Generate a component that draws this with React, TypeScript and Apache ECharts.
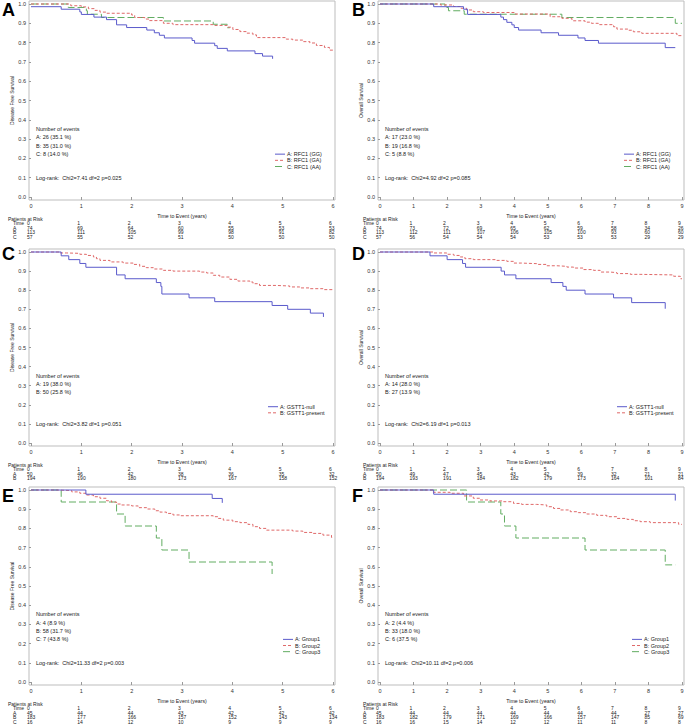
import React, { useEffect, useRef } from "react";
import * as echarts from "echarts";

const FONT = "'Liberation Sans', Arial, Helvetica, sans-serif";
const BLUE = "#5a5acb";
const RED = "#df6868";
const GREEN = "#62ad62";

// ---------- Panel A: Disease free survival by RFC1 ----------
const dfsGG = [[0,0.986],[0.6,0.973],[0.97,0.959],[1.0,0.946],[1.25,0.932],[1.5,0.919],[1.7,0.892],[1.9,0.878],[2.3,0.865],[2.45,0.851],[2.55,0.838],[2.65,0.824],[3.2,0.811],[3.25,0.797],[3.65,0.784],[3.7,0.77],[3.9,0.757],[4.45,0.743],[4.6,0.73],[4.8,0.716]];
const dfsGA = [[0,1],[0.79,0.991],[1.0,0.985],[1.14,0.976],[1.27,0.967],[1.37,0.958],[1.5,0.952],[2.0,0.943],[2.06,0.93],[2.26,0.922],[2.35,0.914],[2.63,0.9],[2.82,0.893],[3.62,0.889],[3.9,0.88],[4.01,0.868],[4.15,0.857],[4.28,0.849],[4.41,0.84],[4.48,0.826],[5.07,0.818],[5.2,0.813],[5.4,0.805],[5.54,0.798],[5.67,0.785],[5.83,0.775],[5.93,0.761],[6.0,0.758]];
const dfsAA = [[0,1],[0.74,0.982],[1.1,0.965],[1.12,0.947],[1.4,0.93],[2.63,0.912],[3.62,0.895],[3.9,0.877],[3.95,0.877]];
const eventsDfsRfc = ["A: 26 (35.1 %)", "B: 35 (31.0 %)", "C: 8 (14.0 %)"];
const logrankDfsRfc = "Log-rank:  Chi2=7.41 df=2 p=0.025";
const riskDfsRfcA = [74, 69, 64, 60, 55, 53, 53];
const riskDfsRfcB = [113, 111, 105, 99, 98, 91, 82];
const riskDfsRfcC = [57, 55, 52, 51, 50, 50, 50];

// ---------- Panel B: Overall survival by RFC1 ----------
const osGG = [[0,1],[1.6,0.986],[2.49,0.973],[2.61,0.946],[3.6,0.932],[3.68,0.919],[3.78,0.905],[3.93,0.892],[4.0,0.878],[4.13,0.865],[4.8,0.851],[5.32,0.838],[5.9,0.824],[6.11,0.811],[6.51,0.797],[8.5,0.774],[8.8,0.774]];
const osGA = [[0,1],[1.8,0.995],[2.19,0.987],[2.4,0.978],[2.58,0.969],[2.78,0.96],[3.08,0.956],[4.0,0.948],[5.07,0.934],[5.42,0.926],[5.72,0.913],[6.11,0.906],[6.3,0.9],[6.51,0.893],[6.96,0.882],[7.06,0.87],[7.4,0.864],[7.55,0.856],[7.8,0.848],[8.85,0.836],[9.0,0.836]];
const osAA = [[0,1],[1.94,0.982],[2.04,0.965],[2.51,0.947],[5.42,0.93],[8.8,0.9],[9.0,0.9]];
const eventsOsRfc = ["A: 17 (23.0 %)", "B: 19 (16.8 %)", "C: 5 (8.8 %)"];
const logrankOsRfc = "Log-rank:  Chi2=4.92 df=2 p=0.085";
const riskOsRfcA = [74, 73, 72, 69, 65, 62, 59, 58, 34, 26];
const riskOsRfcB = [113, 112, 111, 107, 106, 105, 100, 93, 60, 60];
const riskOsRfcC = [57, 56, 54, 54, 54, 53, 53, 53, 29, 29];

// ---------- Panel C: Disease free survival by GSTT1 ----------
const dfsNull = [[0,1],[0.6,0.98],[0.75,0.96],[0.97,0.94],[1.09,0.92],[1.7,0.88],[1.87,0.86],[2.49,0.84],[2.58,0.82],[2.6,0.78],[3.14,0.76],[3.65,0.74],[4.79,0.72],[5.1,0.7],[5.55,0.68],[5.81,0.66]];
const dfsPresent = [[0,1],[0.58,0.995],[0.71,0.993],[0.97,0.988],[1.1,0.982],[1.24,0.974],[1.3,0.965],[1.37,0.956],[1.57,0.948],[1.83,0.942],[2.03,0.935],[2.16,0.925],[2.29,0.918],[2.43,0.911],[2.63,0.904],[2.82,0.9],[3.35,0.895],[3.49,0.89],[3.62,0.878],[3.75,0.869],[3.95,0.857],[4.11,0.848],[4.35,0.843],[4.41,0.834],[4.54,0.825],[4.87,0.822],[5.14,0.817],[5.34,0.812],[5.54,0.808],[5.8,0.803],[6.0,0.8]];
const eventsDfsGst = ["A: 19 (38.0 %)", "B: 50 (25.8 %)"];
const logrankDfsGst = "Log-rank:  Chi2=3.82 df=1 p=0.051";
const riskDfsGstA = [50, 46, 42, 38, 36, 35, 32];
const riskDfsGstB = [194, 190, 180, 173, 167, 158, 152];

// ---------- Panel D: Overall survival by GSTT1 ----------
const osNull = [[0,1],[1.49,0.98],[2.0,0.96],[2.46,0.94],[2.55,0.92],[3.61,0.9],[3.71,0.88],[4.05,0.86],[5.1,0.84],[5.45,0.82],[5.55,0.8],[6.11,0.78],[6.96,0.76],[7.5,0.735],[8.5,0.703]];
const osPresent = [[0,1],[1.59,0.995],[1.99,0.988],[2.2,0.982],[2.39,0.974],[2.53,0.965],[2.78,0.96],[3.48,0.956],[3.78,0.951],[3.98,0.942],[4.22,0.939],[4.67,0.935],[4.97,0.928],[5.27,0.925],[5.57,0.921],[5.77,0.916],[6.06,0.908],[6.36,0.904],[6.56,0.895],[6.86,0.892],[7.06,0.887],[7.46,0.883],[7.75,0.88],[8.75,0.873],[8.95,0.86],[9.0,0.86]];
const eventsOsGst = ["A: 14 (28.0 %)", "B: 27 (13.9 %)"];
const logrankOsGst = "Log-rank:  Chi2=6.19 df=1 p=0.013";
const riskOsGstA = [50, 49, 47, 45, 43, 42, 39, 32, 21, 21];
const riskOsGstB = [194, 193, 191, 184, 182, 179, 173, 164, 101, 84];

// ---------- Panel E: Disease free survival by group ----------
const dfsGroup1 = [[0,1],[1.09,0.978],[3.6,0.956],[3.8,0.933]];
const dfsGroup2 = [[0,1],[0.51,0.997],[0.81,0.99],[0.97,0.983],[1.1,0.974],[1.24,0.965],[1.37,0.957],[1.5,0.944],[1.6,0.937],[1.7,0.927],[1.8,0.922],[2.0,0.917],[2.13,0.908],[2.3,0.901],[2.46,0.892],[2.56,0.885],[2.69,0.878],[2.82,0.87],[2.95,0.866],[3.62,0.861],[3.72,0.852],[3.82,0.843],[4.01,0.835],[4.15,0.83],[4.31,0.821],[4.41,0.809],[4.54,0.8],[4.68,0.791],[5.2,0.786],[5.4,0.779],[5.6,0.774],[5.8,0.765],[5.97,0.753],[6.0,0.753]];
const dfsGroup3 = [[0,1],[0.6,0.9375],[1.7,0.875],[1.87,0.8125],[2.49,0.75],[2.6,0.6875],[3.14,0.625],[4.79,0.5625]];
const eventsDfsGroup = ["A: 4 (8.9 %)", "B: 58 (31.7 %)", "C: 7 (43.8 %)"];
const logrankDfsGroup = "Log-rank:  Chi2=11.33 df=2 p=0.003";
const riskDfsGroupA = [45, 44, 44, 43, 42, 42, 42];
const riskDfsGroupB = [183, 177, 166, 157, 152, 143, 134];
const riskDfsGroupC = [16, 14, 12, 10, 9, 9, 9];

// ---------- Panel F: Overall survival by group ----------
const osGroup1 = [[0,1],[1.6,0.978],[8.8,0.945]];
const osGroup2 = [[0,1],[1.59,0.988],[2.09,0.983],[2.49,0.969],[2.78,0.957],[2.98,0.948],[3.28,0.943],[3.68,0.939],[3.98,0.93],[4.22,0.925],[4.67,0.922],[4.97,0.913],[5.17,0.904],[5.37,0.896],[5.67,0.887],[5.91,0.882],[6.16,0.875],[6.46,0.868],[6.76,0.861],[7.06,0.852],[7.36,0.847],[7.55,0.84],[7.75,0.835],[8.05,0.83],[8.9,0.821],[9.0,0.821]];
const osGroup3 = [[0,1],[2.58,0.9375],[3.6,0.875],[3.71,0.8125],[4.05,0.75],[6.11,0.6875],[8.5,0.61],[8.8,0.61]];
const eventsOsGroup = ["A: 2 (4.4 %)", "B: 33 (18.0 %)", "C: 6 (37.5 %)"];
const logrankOsGroup = "Log-rank:  Chi2=10.11 df=2 p=0.006";
const riskOsGroupA = [45, 44, 44, 44, 44, 44, 44, 44, 27, 27];
const riskOsGroupB = [183, 182, 179, 171, 169, 166, 157, 147, 85, 69];
const riskOsGroupC = [16, 16, 15, 14, 12, 12, 11, 11, 8, 8];

// ---------- shared labels ----------
const rfcNames = ["A: RFC1 (GG)", "B: RFC1 (GA)", "C: RFC1 (AA)"];
const gstNames = ["A: GSTT1-null", "B: GSTT1-present"];
const groupNames = ["A: Group1", "B: Group2", "C: Group3"];
const yTicks = [0, 0.1, 0.2, 0.3, 0.4, 0.5, 0.6, 0.7, 0.8, 0.9, 1.0];
const xTicks6 = [0, 1, 2, 3, 4, 5, 6];
const xTicks9 = [0, 1, 2, 3, 4, 5, 6, 7, 8, 9];
const rowLetters = ["A", "B", "C"];

const STYLES = [
  { color: BLUE, type: "solid" as any },
  { color: RED, type: [3, 2] as any },
  { color: GREEN, type: [7, 3] as any },
];

// layout: frame [left, top, right, bottom]; data area inset by pad
const panels = [
  { letter: "A", letterY: 10, frame: [29, 1, 335, 200], ticks: xTicks6, yName: "Disease Free Survival", curves: [dfsGG, dfsGA, dfsAA], names: rfcNames, events: eventsDfsRfc, logrank: logrankDfsRfc, risk: [riskDfsRfcA, riskDfsRfcB, riskDfsRfcC], legendOff: 60, labelX: [8, 13], yNameGap: 10 },
  { letter: "B", letterY: 10, frame: [378, 1, 684, 200], ticks: xTicks9, yName: "Overall Survival", curves: [osGG, osGA, osAA], names: rfcNames, events: eventsOsRfc, logrank: logrankOsRfc, risk: [riskOsRfcA, riskOsRfcB, riskOsRfcC], legendOff: 60, labelX: [363, 363], yNameGap: 11 },
  { letter: "C", letterY: 253.5, frame: [29, 249, 335, 446], ticks: xTicks6, yName: "Disease Free Survival", curves: [dfsNull, dfsPresent], names: gstNames, events: eventsDfsGst, logrank: logrankDfsGst, risk: [riskDfsGstA, riskDfsGstB], legendOff: 67, labelX: [8, 13], yNameGap: 10 },
  { letter: "D", letterY: 253.5, frame: [378, 249, 684, 446], ticks: xTicks9, yName: "Overall Survival", curves: [osNull, osPresent], names: gstNames, events: eventsOsGst, logrank: logrankOsGst, risk: [riskOsGstA, riskOsGstB], legendOff: 67, labelX: [363, 363], yNameGap: 11 },
  { letter: "E", letterY: 495.5, frame: [29, 487, 335, 685], ticks: xTicks6, yName: "Disease Free Survival", curves: [dfsGroup1, dfsGroup2, dfsGroup3], names: groupNames, events: eventsDfsGroup, logrank: logrankDfsGroup, risk: [riskDfsGroupA, riskDfsGroupB, riskDfsGroupC], legendOff: 52, labelX: [8, 13], yNameGap: 10 },
  { letter: "F", letterY: 495.5, frame: [378, 487, 684, 685], ticks: xTicks9, yName: "Overall Survival", curves: [osGroup1, osGroup2, osGroup3], names: groupNames, events: eventsOsGroup, logrank: logrankOsGroup, risk: [riskOsGroupA, riskOsGroupB, riskOsGroupC], legendOff: 52, labelX: [363, 363], yNameGap: 11 },
];

const PAD_X = 2;
const PAD_Y = 3;

function txt(x: number, y: number, text: string, fontSize: number, extra: any = {}) {
  return {
    type: "text",
    x,
    y,
    silent: true,
    style: {
      text,
      fontSize,
      fontFamily: FONT,
      fill: "#222",
      textAlign: "left",
      align: "left",
      textVerticalAlign: "middle",
      verticalAlign: "middle",
      ...extra,
    },
  };
}

export default function App() {
  const ref = useRef<HTMLDivElement>(null);
  useEffect(() => {
    if (!ref.current) return;
    const chart = echarts.init(ref.current, null, { renderer: "svg", width: 685, height: 727 });
    const grids: any[] = [];
    const xAxes: any[] = [];
    const yAxes: any[] = [];
    const series: any[] = [];
    panels.forEach((p, i) => {
      const [l, t, r, b] = p.frame;
      const w = r - l;
      const h = b - t;
      const xMax = p.ticks[p.ticks.length - 1];
      const xUnit = (w - 2 * PAD_X) / xMax;
      const yUnit = h - 2 * PAD_Y;
      grids.push({ left: l, top: t, width: w, height: h, show: true, borderColor: "#bdbdbd", borderWidth: 1, backgroundColor: "transparent", containLabel: false, outerBoundsMode: "none" });
      xAxes.push({
        type: "value", gridIndex: i, min: -PAD_X / xUnit, max: xMax + PAD_X / xUnit,
        axisLine: { show: false },
        axisTick: { show: true, length: 3, customValues: p.ticks, lineStyle: { color: "#9a9a9a" } },
        axisLabel: { customValues: p.ticks, fontSize: 5.5, color: "#333", margin: 3, fontFamily: FONT },
        splitLine: { show: false },
        name: "Time to Event (years)", nameLocation: "middle", nameGap: 13.5,
        nameTextStyle: { fontSize: 5.2, color: "#222", fontFamily: FONT },
      });
      yAxes.push({
        type: "value", gridIndex: i, min: -PAD_Y / yUnit, max: 1 + PAD_Y / yUnit,
        axisLine: { show: false },
        axisTick: { show: true, length: 2, customValues: yTicks, lineStyle: { color: "#9a9a9a" } },
        axisLabel: { customValues: yTicks, fontSize: 5.5, color: "#333", margin: 3, fontFamily: FONT, formatter: (v: number) => v.toFixed(1) },
        splitLine: { show: false },
        name: p.yName, nameLocation: "middle", nameGap: p.yNameGap, nameRotate: 90,
        nameTextStyle: { fontSize: 5, color: "#222", fontFamily: FONT },
      });
      p.curves.forEach((c, k) => {
        series.push({
          type: "line", name: p.names[k], xAxisIndex: i, yAxisIndex: i, data: c, step: "end",
          showSymbol: false, symbol: "none", silent: true,
          lineStyle: { color: STYLES[k].color, width: 1, type: STYLES[k].type },
          itemStyle: { color: STYLES[k].color },
          z: 3 - k,
        });
      });
    });
    chart.setOption({
      animation: false,
      backgroundColor: "#ffffff",
      textStyle: { fontFamily: FONT },
      grid: grids,
      xAxis: xAxes,
      yAxis: yAxes,
      series,
    });

    const graphics: any[] = [];
    panels.forEach((p, i) => {
      const [l, , r, b] = p.frame;
      const toPx = (x: number, y: number) => chart.convertToPixel({ gridIndex: i } as any, [x, y]) as number[];
      graphics.push(txt(l === 29 ? 2 : 352, p.letterY, p.letter, 18, { fontWeight: "bold", fill: "#000" }));
      // number of events
      const ax = l + 7;
      graphics.push(txt(ax, toPx(0, 0.353)[1], "Number of events", 5.5));
      p.events.forEach((e, k) => {
        graphics.push(txt(ax, toPx(0, 0.309 - k * 0.0435)[1], e, 5.5));
      });
      graphics.push(txt(ax, toPx(0, 0.098)[1], p.logrank, 5.5));
      // legend
      const n = p.names.length;
      const lx = r - p.legendOff;
      p.names.forEach((nm, k) => {
        const y = toPx(0, 0.158 + (n - 1 - k) * 0.032)[1];
        graphics.push({
          type: "line", silent: true,
          shape: { x1: lx, y1: y, x2: lx + 10, y2: y },
          style: { stroke: STYLES[k].color, lineWidth: 1, lineDash: STYLES[k].type === "solid" ? null : STYLES[k].type },
        });
        graphics.push(txt(lx + 12, y, nm, 5.5));
      });
      // risk table
      const rowY = (j: number) => b + 18.5 + j * 4.6;
      graphics.push(txt(p.labelX[0], rowY(0), "Patients at Risk", 5));
      graphics.push(txt(p.labelX[1], rowY(1), "Time", 5));
      p.ticks.forEach((tk) => {
        graphics.push(txt(toPx(tk, 0)[0] - 4, rowY(1), String(tk), 5));
      });
      p.risk.forEach((row, k) => {
        graphics.push(txt(p.labelX[1], rowY(2 + k), rowLetters[k], 5));
        row.forEach((v, j) => {
          graphics.push(txt(toPx(p.ticks[j], 0)[0] - 4, rowY(2 + k), String(v), 5));
        });
      });
    });
    chart.setOption({ graphic: graphics });
    return () => chart.dispose();
  }, []);
  return <div ref={ref} style={{ position: "absolute", left: 0, top: 0, width: 685, height: 727, background: "#fff" }} />;
}
